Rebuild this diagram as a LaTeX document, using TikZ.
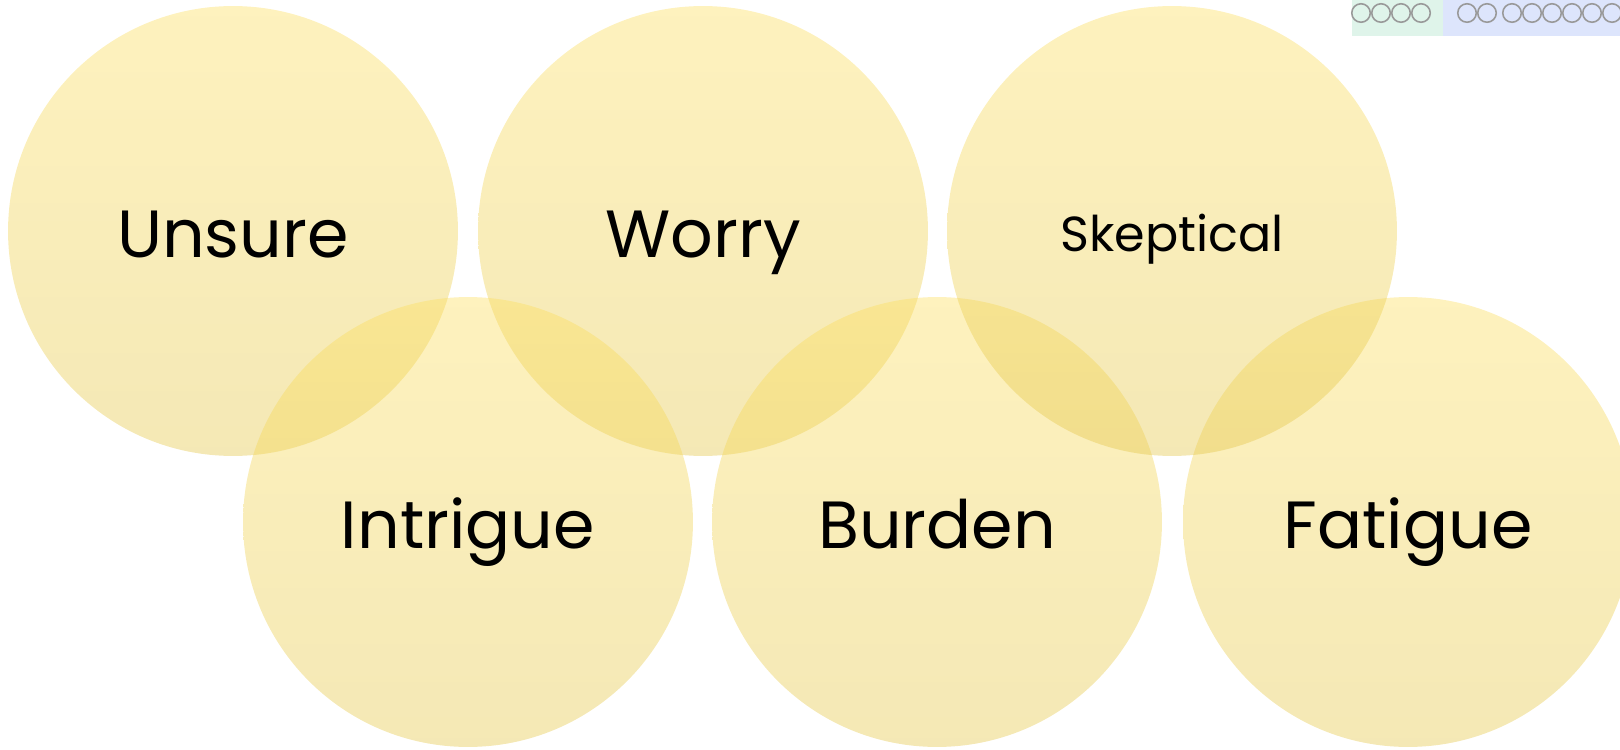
\documentclass[tikz,border=0pt]{standalone}
\usepackage{fontspec}
\setmainfont{Poppins}

\definecolor{bubbletop}{RGB}{252,222,92}
\definecolor{bubblebot}{RGB}{228,198,70}
\definecolor{tabgreen}{RGB}{223,244,234}
\definecolor{tabblue}{RGB}{221,229,252}

\begin{document}
\begin{tikzpicture}[x=0.02cm,y=-0.02cm,
    bubble/.style={circle,minimum size=9cm,inner sep=0,draw=none,
      top color=bubbletop,bottom color=bubblebot,fill opacity=0.4},
    word/.style={anchor=base,text=black,font=\fontsize{38}{38}\selectfont},
    ring/.style={circle,draw=gray!80,line width=0.9pt,minimum size=0.37cm,inner sep=0}]
  \useasboundingbox (0,0) rectangle (1620,750);

  % the two rows of bubbles
  \foreach \name/\x/\y/\txt in {unsure/233/231/Unsure,worry/703/231/Worry,
      intrigue/468/522/Intrigue,burden/937/522/Burden,fatigue/1408/522/Fatigue}{
    \node [bubble] (\name) at (\x,\y) {};
    \node [word] (\name-txt) at (\x,\y+26) {\txt};
  }
  \node [bubble] (skeptical) at (1172,231) {};
  \node [word,font=\fontsize{28}{28}\selectfont] (skeptical-txt) at (1172,251) {Skeptical};

  % small tabs in the corner
  \fill [tabgreen] (1352,0) rectangle (1443,36);
  \fill [tabblue] (1443,0) rectangle (1620,36);
  \foreach \i/\x in {1/1361,2/1381,3/1401,4/1421}{
    \node [ring] (g\i) at (\x,13) {};
  }
  \foreach \i/\x in {1/1467,2/1487,3/1512,4/1532,5/1552,6/1572,7/1592,8/1612}{
    \node [ring] (b\i) at (\x,13) {};
  }
\end{tikzpicture}
\end{document}
